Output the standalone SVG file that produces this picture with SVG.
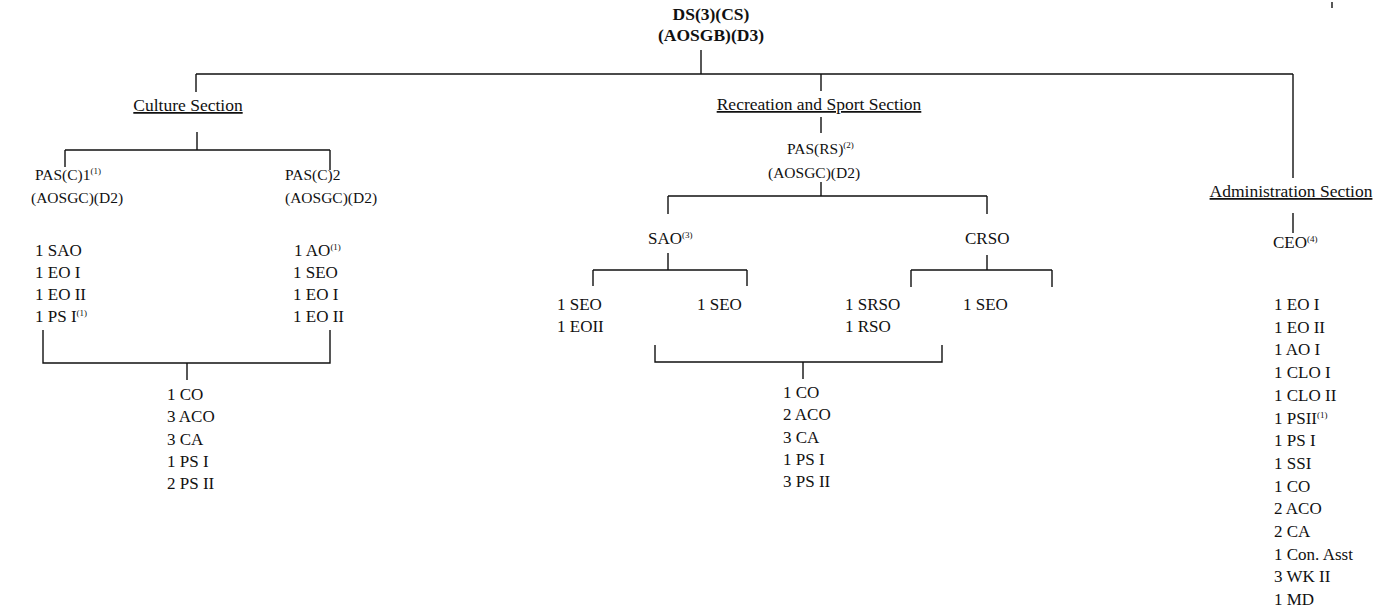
<svg xmlns="http://www.w3.org/2000/svg" width="1390" height="614" viewBox="0 0 1390 614">
<style>
text{font-family:"Liberation Serif","Times New Roman",serif;fill:#111;font-size:17px}
.t{font-weight:bold;font-size:17.5px;text-anchor:middle}
.sec{font-size:17.5px;text-decoration:underline;text-anchor:middle}
.h{font-size:15.5px}
.sup{font-size:9px}
.c path{fill:none;stroke:#111;stroke-width:1.4}
</style>
<rect width="1390" height="614" fill="#fff"/>
<g class="c" id="connectors">
<path d="M701 50V74M196 74H1293M196 74V92M821 74V91M1293 74V178"/>
<path d="M197 132V150M65 150H330M65 150V167M330 150V170"/>
<path d="M43 330V363H330V330M187 363V380"/>
<path d="M821 117V133M821 182V196M668 196H987M668 196V214M987 196V214"/>
<path d="M668 253V270M593 270H747M593 270V286M747 270V286"/>
<path d="M987 255V270M911 270H1052M911 270V287M1052 270V287"/>
<path d="M655 345V362H942V345M803 362V379"/>
<path d="M1293 213V233"/>
<path d="M1332 2V8"/>
</g>
<g id="ds"><text class="t" x="711" y="20">DS(3)(CS)</text><text class="t" x="711" y="41">(AOSGB)(D3)</text></g>
<g id="culture"><text class="sec" x="188" y="111">Culture Section</text></g>
<g id="recreation"><text class="sec" x="819" y="110">Recreation and Sport Section</text></g>
<g id="admin"><text class="sec" x="1291" y="197">Administration Section</text></g>
<g id="pasc1"><text class="h" x="35" y="180">PAS(C)1<tspan class="sup" dy="-6">(1)</tspan></text><text class="h" x="31" y="203">(AOSGC)(D2)</text></g>
<g id="pasc2"><text class="h" x="285" y="180">PAS(C)2</text><text class="h" x="285" y="203">(AOSGC)(D2)</text></g>
<g id="pasc1-staff"><text x="35" y="256">1 SAO</text><text x="35" y="278">1 EO I</text><text x="35" y="300">1 EO II</text><text x="35" y="322">1 PS I<tspan class="sup" dy="-6">(1)</tspan></text></g>
<g id="pasc2-staff"><text x="294" y="256">1 AO<tspan class="sup" dy="-6">(1)</tspan></text><text x="293" y="278">1 SEO</text><text x="293" y="300">1 EO I</text><text x="293" y="322">1 EO II</text></g>
<g id="culture-pool"><text x="167" y="400">1 CO</text><text x="167" y="422">3 ACO</text><text x="167" y="445">3 CA</text><text x="167" y="467">1 PS I</text><text x="167" y="489">2 PS II</text></g>
<g id="pasrs"><text class="h" x="787" y="154">PAS(RS)<tspan class="sup" dy="-6">(2)</tspan></text><text class="h" x="768" y="178">(AOSGC)(D2)</text></g>
<g id="sao"><text x="648" y="244">SAO<tspan class="sup" dy="-6">(3)</tspan></text></g>
<g id="crso"><text x="965" y="244">CRSO</text></g>
<g id="sao-a"><text x="557" y="310">1 SEO</text><text x="557" y="332">1 EOII</text></g>
<g id="sao-b"><text x="697" y="310">1 SEO</text></g>
<g id="crso-a"><text x="845" y="310">1 SRSO</text><text x="845" y="332">1 RSO</text></g>
<g id="crso-b"><text x="963" y="310">1 SEO</text></g>
<g id="rs-pool"><text x="783" y="398">1 CO</text><text x="783" y="420">2 ACO</text><text x="783" y="443">3 CA</text><text x="783" y="465">1 PS I</text><text x="783" y="487">3 PS II</text></g>
<g id="ceo"><text x="1273" y="248">CEO<tspan class="sup" dy="-6">(4)</tspan></text></g>
<g id="admin-staff">
<text x="1274" y="310">1 EO I</text>
<text x="1274" y="332.7">1 EO II</text>
<text x="1274" y="355.4">1 AO I</text>
<text x="1274" y="378.1">1 CLO I</text>
<text x="1274" y="400.8">1 CLO II</text>
<text x="1274" y="423.5">1 PSII<tspan class="sup" dy="-6">(1)</tspan></text>
<text x="1274" y="446.2">1 PS I</text>
<text x="1274" y="468.9">1 SSI</text>
<text x="1274" y="491.6">1 CO</text>
<text x="1274" y="514.3">2 ACO</text>
<text x="1274" y="537">2 CA</text>
<text x="1274" y="559.7">1 Con. Asst</text>
<text x="1274" y="582.4">3 WK II</text>
<text x="1274" y="605.1">1 MD</text>
</g>
</svg>
